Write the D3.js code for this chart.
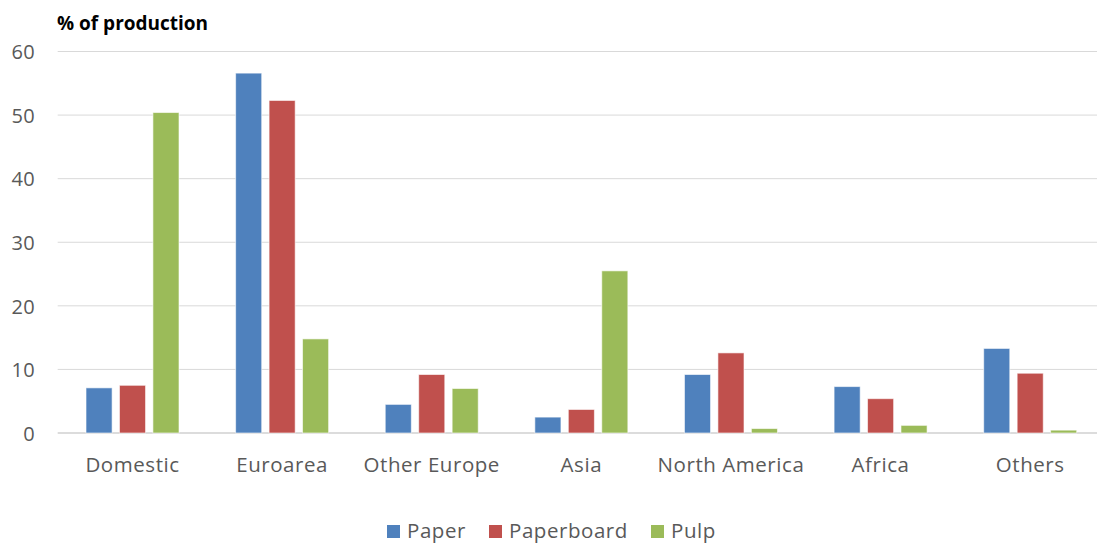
<!DOCTYPE html>
<html>
<head>
<meta charset="utf-8">
<script src="https://cdn.jsdelivr.net/npm/d3@7"></script>
<style>
  body { margin: 0; background: #fff; }
  svg { font-family: "Open Sans", sans-serif; }
</style>
</head>
<body>
<svg id="chart" width="1097" height="544"></svg>
<script>
// data
const categories = ["Domestic", "Euroarea", "Other Europe", "Asia", "North America", "Africa", "Others"];
const seriesNames = ["Paper", "Paperboard", "Pulp"];
const paper      = [7.1, 56.6, 4.5, 2.5, 9.2, 7.3, 13.3];
const paperboard = [7.5, 52.3, 9.2, 3.7, 12.6, 5.4, 9.4];
const pulp       = [50.4, 14.8, 7.0, 25.5, 0.7, 1.2, 0.45];
const yTicks = [0, 10, 20, 30, 40, 50, 60];
const colors = ["#4F81BD", "#C0504D", "#9BBB59"];

const seriesValues = [paper, paperboard, pulp];
const rows = categories.map((c, i) => ({
  cat: c,
  vals: seriesNames.map((s, j) => ({ s: s, v: seriesValues[j][i], c: colors[j] }))
}));

const svg = d3.select("#chart");
const plotL = 57.7, plotR = 1105, plotT = 51.5, plotB = 433;

const x0 = d3.scaleBand().domain(categories).range([plotL, plotR]).padding(0);
const groupW = 93;
const x1 = d3.scaleBand().domain(seriesNames).range([0, groupW]).paddingInner(0.22).paddingOuter(0);
const y = d3.scaleLinear().domain([0, 60]).range([plotB, plotT]);

// gridlines
svg.append("g").selectAll("line").data(yTicks).enter().append("line")
  .attr("x1", plotL).attr("x2", 1097)
  .attr("y1", d => y(d)).attr("y2", d => y(d))
  .attr("stroke", d => d === 0 ? "#d0d0d0" : "#d9d9d9")
  .attr("stroke-width", d => d === 0 ? 1.5 : 1);

// y axis labels
const yAxis = d3.axisLeft(y).tickValues(yTicks).tickSize(0).tickPadding(0);
const ya = svg.append("g").attr("transform", "translate(35,0)").call(yAxis);
ya.select(".domain").remove();
ya.selectAll("text").attr("font-size", 20).attr("fill", "#595959")
  .attr("font-family", "'Open Sans', sans-serif").attr("dy", "0.36em")
  .attr("letter-spacing", 0.3);

// bars
const groups = svg.append("g").selectAll("g").data(rows).enter().append("g")
  .attr("transform", d => "translate(" + (x0(d.cat) + (x0.bandwidth() - groupW) / 2) + ",0)");
groups.selectAll("rect").data(d => d.vals).enter().append("rect")
  .attr("x", d => x1(d.s))
  .attr("y", d => y(d.v))
  .attr("width", x1.bandwidth())
  .attr("height", d => plotB - y(d.v))
  .attr("fill", d => d.c)
  .attr("stroke", "#ffffff")
  .attr("stroke-opacity", 0.6)
  .attr("stroke-width", 1);

// category labels
const xAxis = d3.axisBottom(x0).tickSize(0).tickPadding(0);
const xa = svg.append("g").call(xAxis);
xa.select(".domain").remove();
xa.selectAll("text").attr("font-size", 20.5).attr("fill", "#595959")
  .attr("font-family", "'Open Sans', sans-serif")
  .attr("letter-spacing", 0.55)
  .attr("y", 471.5).attr("dy", 0);

// title
svg.append("text").attr("x", 57).attr("y", 30)
  .attr("font-size", 19).attr("font-weight", "bold").attr("fill", "#000")
  .text("% of production");

// legend (kept just inside the bottom edge)
const legendX = [387, 489, 651];
const lg = svg.append("g").selectAll("g").data(seriesNames).enter().append("g")
  .attr("transform", (d, i) => "translate(" + legendX[i] + ",0)");
lg.append("rect").attr("x", 0).attr("y", 525).attr("width", 13).attr("height", 13)
  .attr("fill", (d, i) => colors[i]);
lg.append("text").attr("x", 20).attr("y", 537.5).attr("font-size", 20.5).attr("fill", "#595959")
  .attr("letter-spacing", 0.55)
  .text(d => d);
</script>
</body>
</html>
